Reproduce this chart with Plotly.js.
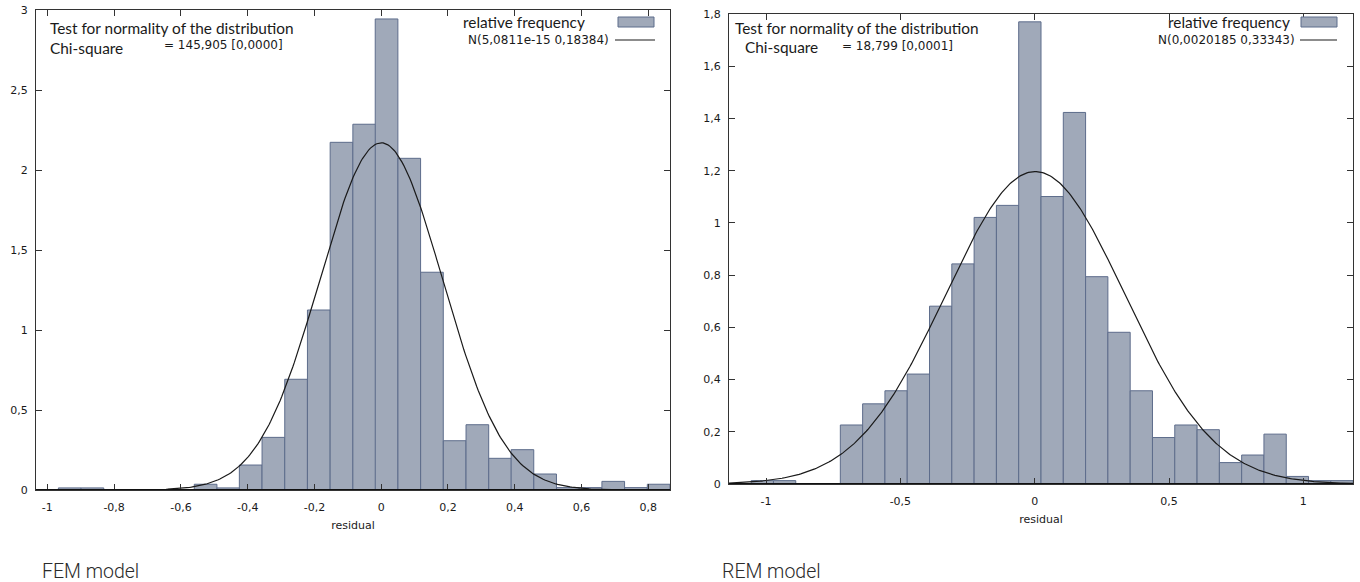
<!DOCTYPE html>
<html><head><meta charset="utf-8">
<script src="https://cdn.plot.ly/plotly-3.0.1.min.js"></script>
<style>html,body{margin:0;padding:0;background:#fff}#chart{width:1360px;height:582px}</style>
</head><body><div id="chart"></div>
<script>
// ---------- data ----------
const femBinCenters = [-0.933,-0.865,-0.797,-0.730,-0.662,-0.594,-0.526,-0.458,-0.391,-0.323,-0.255,-0.187,-0.119,-0.051,0.016,0.084,0.152,0.220,0.288,0.356,0.423,0.491,0.559,0.627,0.695,0.763,0.831];
const femRelFreq    = [0.013,0.013,0,0,0,0,0.036,0.013,0.156,0.329,0.692,1.125,2.173,2.286,2.944,2.073,1.361,0.308,0.408,0.198,0.252,0.100,0.015,0.015,0.054,0.015,0.036];
const femMean = 5.0811e-15;
const femSd = 0.18384;

const remBinCenters = [-1.014,-0.931,-0.848,-0.765,-0.682,-0.599,-0.516,-0.433,-0.350,-0.267,-0.184,-0.101,-0.018,0.065,0.148,0.231,0.314,0.397,0.480,0.563,0.646,0.729,0.812,0.895,0.978,1.061,1.144];
const remRelFreq    = [0.013,0.013,0,0,0.226,0.307,0.357,0.421,0.681,0.843,1.021,1.067,1.770,1.101,1.423,0.794,0.581,0.357,0.178,0.226,0.208,0.082,0.111,0.191,0.029,0.013,0.013];
const remMean = 0.0020185;
const remSd = 0.33343;

const femXTickVals = [-1,-0.8,-0.6,-0.4,-0.2,0,0.2,0.4,0.6,0.8];
const femXTickText = ['-1','-0,8','-0,6','-0,4','-0,2','0','0,2','0,4','0,6','0,8'];
const femYTickVals = [0,0.5,1,1.5,2,2.5,3];
const femYTickText = ['0','0,5','1','1,5','2','2,5','3'];
const remXTickVals = [-1,-0.5,0,0.5,1];
const remXTickText = ['-1','-0,5','0','0,5','1'];
const remYTickVals = [0,0.2,0.4,0.6,0.8,1,1.2,1.4,1.6,1.8];
const remYTickText = ['0','0,2','0,4','0,6','0,8','1','1,2','1,4','1,6','1,8'];

const femChi = '= 145,905 [0,0000]';
const remChi = '= 18,799 [0,0001]';
const femNormLabel = 'N(5,0811e-15 0,18384)';
const remNormLabel = 'N(0,0020185 0,33343)';

// ---------- helpers ----------
const W = 1360, H = 582;
const px = x => x / W;
const py = y => 1 - y / H;
const femRange = [-1.034, 0.865];
const remRange = [-1.138, 1.185];

function normalCurve(mean, sd, range) {
  const xs = [], ys = [];
  const n = 400;
  for (let i = 0; i <= n; i++) {
    const x = range[0] + (range[1] - range[0]) * i / n;
    xs.push(x);
    ys.push(Math.exp(-0.5 * ((x - mean) / sd) ** 2) / (sd * Math.sqrt(2 * Math.PI)));
  }
  return {xs, ys};
}
function binWidth(c) { return (c[c.length - 1] - c[0]) / (c.length - 1); }

const barFill = '#a0a9b9';
const barLine = '#5d6c8b';
const axisCol = '#333';
const txtCol = '#1a1a1a';
const tickFont = {family: 'DejaVu Sans', size: 11, color: txtCol};
const labelFont = {family: 'Lato', size: 15.4, color: txtCol};
const smallFont = {family: 'DejaVu Sans', size: 12, color: txtCol};

const femCurve = normalCurve(femMean, femSd, femRange);
const remCurve = normalCurve(remMean, remSd, remRange);

const traces = [
  {type: 'bar', x: femBinCenters, y: femRelFreq, width: binWidth(femBinCenters),
   marker: {color: barFill, line: {color: barLine, width: 1}}, xaxis: 'x', yaxis: 'y', name: 'relative frequency', hoverinfo: 'x+y'},
  {type: 'scatter', mode: 'lines', x: femCurve.xs, y: femCurve.ys, line: {color: txtCol, width: 1.2},
   xaxis: 'x', yaxis: 'y', name: femNormLabel},
  {type: 'bar', x: remBinCenters, y: remRelFreq, width: binWidth(remBinCenters),
   marker: {color: barFill, line: {color: barLine, width: 1}}, xaxis: 'x2', yaxis: 'y2', name: 'relative frequency', hoverinfo: 'x+y'},
  {type: 'scatter', mode: 'lines', x: remCurve.xs, y: remCurve.ys, line: {color: txtCol, width: 1.2},
   xaxis: 'x2', yaxis: 'y2', name: remNormLabel}
];

function axisBase(standoff) {
  return {showline: true, linecolor: axisCol, linewidth: 1, mirror: 'ticks', ticks: 'inside', ticklen: 6,
          tickcolor: axisCol, tickwidth: 1, showgrid: false, zeroline: false, tickfont: tickFont,
          ticklabelstandoff: standoff,
          tickmode: 'array', automargin: false, fixedrange: true};
}
const xTitle = {text: 'residual', font: {family: 'DejaVu Sans', size: 11, color: txtCol}, standoff: 8};

const layout = {
  width: W, height: H, margin: {l: 0, r: 0, t: 0, b: 0},
  paper_bgcolor: '#fff', plot_bgcolor: '#fff',
  showlegend: false, bargap: 0, separators: ', ',
  xaxis: Object.assign(axisBase(7), {domain: [px(36), px(670)], range: femRange, anchor: 'y',
    tickvals: femXTickVals, ticktext: femXTickText, title: xTitle}),
  yaxis: Object.assign(axisBase(5), {domain: [py(490), py(10)], range: [0, 3], anchor: 'x',
    tickvals: femYTickVals, ticktext: femYTickText}),
  xaxis2: Object.assign(axisBase(7), {domain: [px(729), px(1353)], range: remRange, anchor: 'y2',
    tickvals: remXTickVals, ticktext: remXTickText, title: xTitle}),
  yaxis2: Object.assign(axisBase(5), {domain: [py(484), py(14)], range: [0, 1.8], anchor: 'x2',
    tickvals: remYTickVals, ticktext: remYTickText}),
  shapes: [
    // bold baselines
    {type: 'line', xref: 'x domain', yref: 'y', x0: 0, x1: 1, y0: 0, y1: 0, line: {color: '#111', width: 2}},
    {type: 'line', xref: 'x2 domain', yref: 'y2', x0: 0, x1: 1, y0: 0, y1: 0, line: {color: '#111', width: 2}},
    // legend keys
    {type: 'rect', xref: 'paper', yref: 'paper', x0: px(618), x1: px(654), y0: py(27), y1: py(17),
     fillcolor: barFill, line: {color: barLine, width: 1}},
    {type: 'line', xref: 'paper', yref: 'paper', x0: px(615), x1: px(655), y0: py(40), y1: py(40),
     line: {color: txtCol, width: 1.2}},
    {type: 'rect', xref: 'paper', yref: 'paper', x0: px(1301), x1: px(1337), y0: py(27), y1: py(17),
     fillcolor: barFill, line: {color: barLine, width: 1}},
    {type: 'line', xref: 'paper', yref: 'paper', x0: px(1300), x1: px(1337), y0: py(40), y1: py(40),
     line: {color: txtCol, width: 1.2}}
  ],
  annotations: [
    {text: 'Test for normality of the distribution', x: px(48), y: py(28), xanchor: 'left', yanchor: 'middle', font: labelFont},
    {text: 'Chi-square', x: px(48), y: py(48), xanchor: 'left', yanchor: 'middle', font: labelFont},
    {text: femChi, x: px(162), y: py(45), xanchor: 'left', yanchor: 'middle', font: smallFont},
    {text: 'relative frequency', x: px(587), y: py(22), xanchor: 'right', yanchor: 'middle', font: labelFont},
    {text: femNormLabel, x: px(611), y: py(40), xanchor: 'right', yanchor: 'middle', font: smallFont},

    {text: 'Test for normality of the distribution', x: px(733), y: py(28), xanchor: 'left', yanchor: 'middle', font: labelFont},
    {text: 'Chi-square', x: px(743), y: py(47), xanchor: 'left', yanchor: 'middle', font: labelFont},
    {text: remChi, x: px(840), y: py(46), xanchor: 'left', yanchor: 'middle', font: smallFont},
    {text: 'relative frequency', x: px(1292), y: py(22), xanchor: 'right', yanchor: 'middle', font: labelFont},
    {text: remNormLabel, x: px(1297), y: py(40), xanchor: 'right', yanchor: 'middle', font: smallFont},

    {text: 'FEM model', x: px(40), y: py(571), xanchor: 'left', yanchor: 'middle',
     font: {family: 'Roboto', size: 19.5, weight: 300, color: '#2a2a2a'}},
    {text: 'REM model', x: px(720), y: py(571), xanchor: 'left', yanchor: 'middle',
     font: {family: 'Roboto', size: 19.5, weight: 300, color: '#2a2a2a'}}
  ].map(a => Object.assign({xref: 'paper', yref: 'paper', showarrow: false}, a))
};

Plotly.newPlot('chart', traces, layout, {displayModeBar: false, staticPlot: true});
</script>
</body></html>
